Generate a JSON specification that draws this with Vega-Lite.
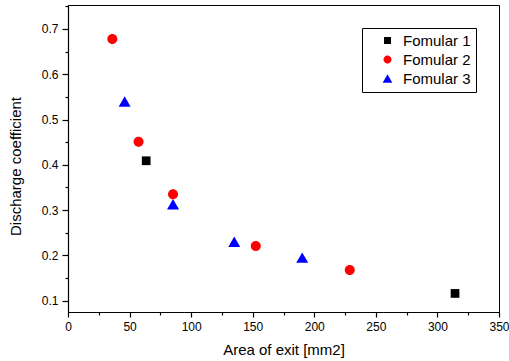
{
  "$schema": "https://vega.github.io/schema/vega-lite/v6.json",
  "autosize": "none",
  "width": 431,
  "height": 307,
  "padding": {"left": 68, "top": 5, "right": 10, "bottom": 49},
  "background": "white",
  "config": {
    "font": "Liberation Sans",
    "view": {"stroke": "black", "strokeWidth": 1},
    "axis": {"grid": false, "domainColor": "black", "tickColor": "black", "labelColor": "black", "titleColor": "black", "labelFont": "Liberation Sans", "titleFont": "Liberation Sans", "labelFontSize": 12, "titleFontSize": 15, "titleFontWeight": "normal", "domainWidth": 1.2, "tickWidth": 1.2},
    "legend": {"orient": "none", "legendX": 294, "legendY": 23, "strokeColor": "black", "strokeWidth": 1, "padding": 5, "labelFont": "Liberation Sans", "labelFontSize": 15, "labelColor": "black", "symbolOffset": 13, "labelOffset": 8, "rowPadding": 3, "symbolStrokeWidth": 0, "symbolSize": 64}
  },
  "data": {"values": [
    {"series": "Fomular 1", "area": 63.5, "cd": 0.409},
    {"series": "Fomular 1", "area": 314.3, "cd": 0.116},
    {"series": "Fomular 2", "area": 36.0, "cd": 0.678},
    {"series": "Fomular 2", "area": 57.3, "cd": 0.451},
    {"series": "Fomular 2", "area": 85.3, "cd": 0.335},
    {"series": "Fomular 2", "area": 152.5, "cd": 0.221},
    {"series": "Fomular 2", "area": 228.8, "cd": 0.168},
    {"series": "Fomular 3", "area": 46.0, "cd": 0.540},
    {"series": "Fomular 3", "area": 85.3, "cd": 0.313},
    {"series": "Fomular 3", "area": 135.0, "cd": 0.230},
    {"series": "Fomular 3", "area": 190.2, "cd": 0.195}
  ]},
  "layer": [
    {
      "mark": {"type": "point", "filled": true, "opacity": 1, "strokeWidth": 0, "size": 100},
      "encoding": {
        "x": {"field": "area", "type": "quantitative", "scale": {"domain": [0, 350], "nice": false, "zero": false},
              "axis": {"orient": "bottom", "title": "Area of exit [mm2]", "values": [0, 50, 100, 150, 200, 250, 300, 350], "tickSize": 5, "labelPadding": 4, "titlePadding": 10, "labelFlush": false}},
        "y": {"field": "cd", "type": "quantitative", "scale": {"domain": [0.075, 0.753], "nice": false, "zero": false},
              "axis": {"orient": "left", "title": "Discharge coefficient", "values": [0.1, 0.2, 0.3, 0.4, 0.5, 0.6, 0.7], "format": ".1f", "tickSize": 6, "labelPadding": 4, "titleX": -53, "titleY": 161, "titleAngle": 270, "titleAlign": "center", "titleBaseline": "middle"}},
        "color": {"field": "series", "type": "nominal", "scale": {"domain": ["Fomular 1", "Fomular 2", "Fomular 3"], "range": ["#000000", "#ff0000", "#0000ff"]}, "legend": {"title": null}},
        "shape": {"field": "series", "type": "nominal", "scale": {"domain": ["Fomular 1", "Fomular 2", "Fomular 3"], "range": ["M-0.87,-0.87H0.87V0.87H-0.87Z", "M-1,0A1,1 0 1,1 1,0A1,1 0 1,1 -1,0Z", "M0,-1.04L1.2,1.04L-1.2,1.04Z"]}, "legend": {"title": null}}
      }
    },
    {
      "mark": {"type": "point", "opacity": 0},
      "encoding": {
        "x": {"field": "area", "type": "quantitative", "scale": {"domain": [0, 350], "nice": false, "zero": false},
              "axis": {"orient": "bottom", "title": null, "labels": false, "domain": false, "values": [25, 75, 125, 175, 225, 275, 325], "tickSize": 3}},
        "y": {"field": "cd", "type": "quantitative", "scale": {"domain": [0.075, 0.753], "nice": false, "zero": false},
              "axis": {"orient": "left", "title": null, "labels": false, "domain": false, "values": [0.15, 0.25, 0.35, 0.45, 0.55, 0.65, 0.75], "tickSize": 3}}
      }
    }
  ],
  "resolve": {"axis": {"x": "independent", "y": "independent"}}
}
